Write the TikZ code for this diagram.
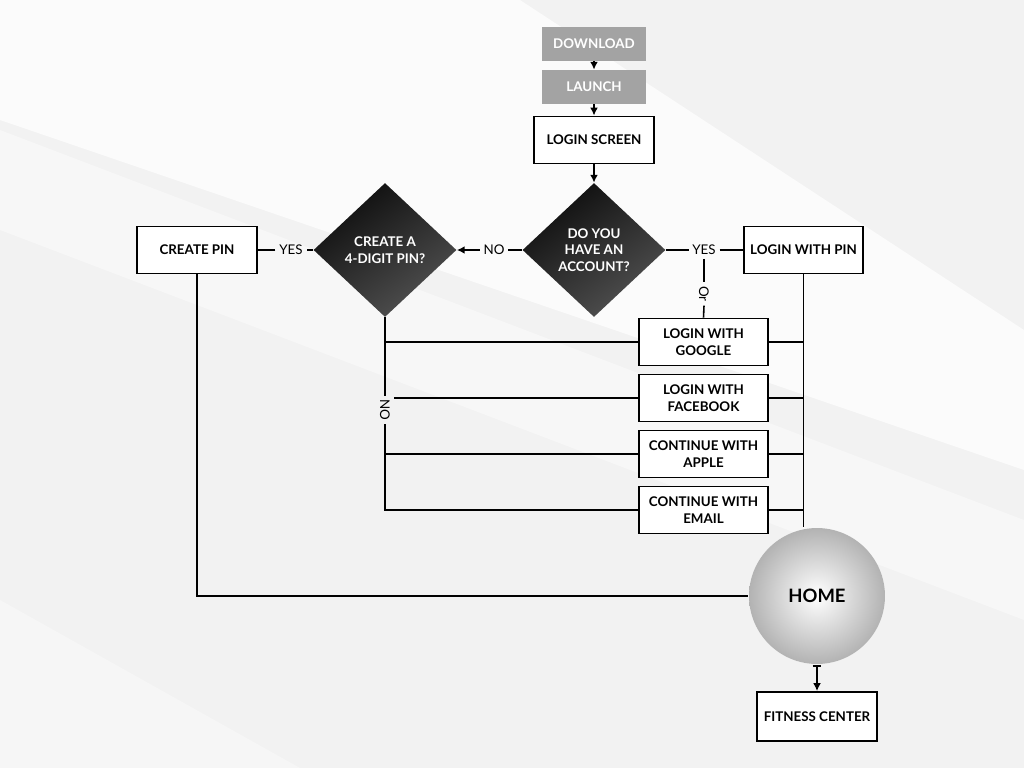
\documentclass[tikz,border=0pt]{standalone}
\usepackage{fontspec}
\setmainfont{Lato}
\usetikzlibrary{shapes.geometric,arrows.meta}

\tikzset{
  txt/.style={font=\fontsize{7.6}{9.4}\selectfont\bfseries, align=center},
  box/.style={txt, draw=black, line width=1.1pt, fill=white, minimum width=2.4cm,
              minimum height=0.94cm, inner sep=1pt},
  greybox/.style={txt, fill=black!36, text=white, minimum width=2.08cm,
              minimum height=0.68cm, inner sep=1pt},
  decision/.style={txt, diamond, text=white, top color=black!95, bottom color=black!68,
              shading angle=35, minimum width=2.86cm, minimum height=2.68cm, inner sep=0pt},
  tag/.style={font=\fontsize{7.6}{9}\selectfont, inner sep=2pt},
  link/.style={line width=0.9pt},
  flow/.style={link, -{Latex[length=4.5pt,width=4.5pt]}}
}

\begin{document}
\begin{tikzpicture}[x=0.02cm,y=-0.02cm]
\def\bx{703.5} % x of the sign-in column
\def\bh{56} % step between sign-in boxes

% background
\fill[black!5] (0,0) rectangle (1024,768);
\fill[white,opacity=0.7] (0,0) -- (520,0) -- (1024,330) -- (1024,470) -- (0,120) -- cycle;
\fill[white,opacity=0.4] (0,130) -- (0,230) -- (1024,620) -- (1024,520) -- cycle;
\fill[white,opacity=0.35] (0,600) -- (0,768) -- (300,768) -- cycle;
\useasboundingbox (0,0) rectangle (1024,768);

% start
\node[greybox] (dl) at (594,44) {DOWNLOAD};
\node[greybox] (launch) at (594,87) {LAUNCH};
\node[box] (screen) at (594,140) {LOGIN SCREEN};

% questions
\node[decision] (acct) at (594,250) {DO YOU\\HAVE AN\\ACCOUNT?};
\node[decision] (pin4) at (385,250) {CREATE A\\4-DIGIT PIN?};

\node[box] (cpin) at (197,250) {CREATE PIN};
\node[box, minimum width=2.38cm] (lpin) at (803.5,250) {LOGIN WITH PIN};

% labels
\node[tag] (yesA) at (291,250) {YES};
\node[tag] (noA) at (494,250) {NO};
\node[tag] (yesB) at (704,250) {YES};
\node[tag, rotate=-90] (orB) at (704,294) {Or};
\node[tag, rotate=-90] (noB) at (385,410) {NO};

% sign-in options
\foreach \n/\t [count=\i from 0] in {google/{LOGIN WITH\\GOOGLE},
                                     facebook/{LOGIN WITH\\FACEBOOK},
                                     apple/{CONTINUE WITH\\APPLE},
                                     email/{CONTINUE WITH\\EMAIL}}
{
  \node[box, minimum width=2.58cm] (\n) at (\bx, 342+\i*\bh) {\t};
}

\node[box, minimum width=2.72cm, circle, draw=none, shading=radial, inner color=white,
      outer color=black!30, font=\fontsize{10.5}{12}\selectfont\bfseries] (home) at (817,596) {HOME};
\node[box, minimum height=0.98cm] (fit) at (817,716.5) {FITNESS CENTER};

% connectors
\draw[flow] (dl) -- (launch);
\draw[flow] (launch) -- (screen);
\draw[flow] (screen) -- (acct);

\draw[link] (acct.west) -- (noA.east);
\draw[flow] (noA.west) -- (pin4.east);
\draw[link] (pin4.west) -- (yesA.east);
\draw[link] (yesA.west) -- (cpin.east);

\draw[link] (acct.east) -- (yesB.west);
\draw[link] (yesB.east) -- (lpin.west);
\draw[link] (yesB.south) -- (orB.west);
\draw[link] (orB.east) -- (google.north);

\draw[link] (pin4.south) -- (noB.west);
\draw[link] (noB.east) |- (email.west);
\draw[link] (google.west) -- (google.west -| pin4.south);
\draw[link] (facebook.west) -- (facebook.west -| noB.north);
\draw[link] (apple.west) -- (apple.west -| pin4.south);

\draw[link] (lpin.south) -- (lpin.south |- home.north);
\foreach \n in {google,facebook,apple,email}
  \draw[link] (\n.east) -- (\n.east -| lpin.south);

\draw[link] (cpin.south) |- (home.west);
\draw[link, {Bar[width=5pt]}-{Latex[length=4.5pt,width=4.5pt]}] (home.south) -- (fit.north);
\end{tikzpicture}
\end{document}
